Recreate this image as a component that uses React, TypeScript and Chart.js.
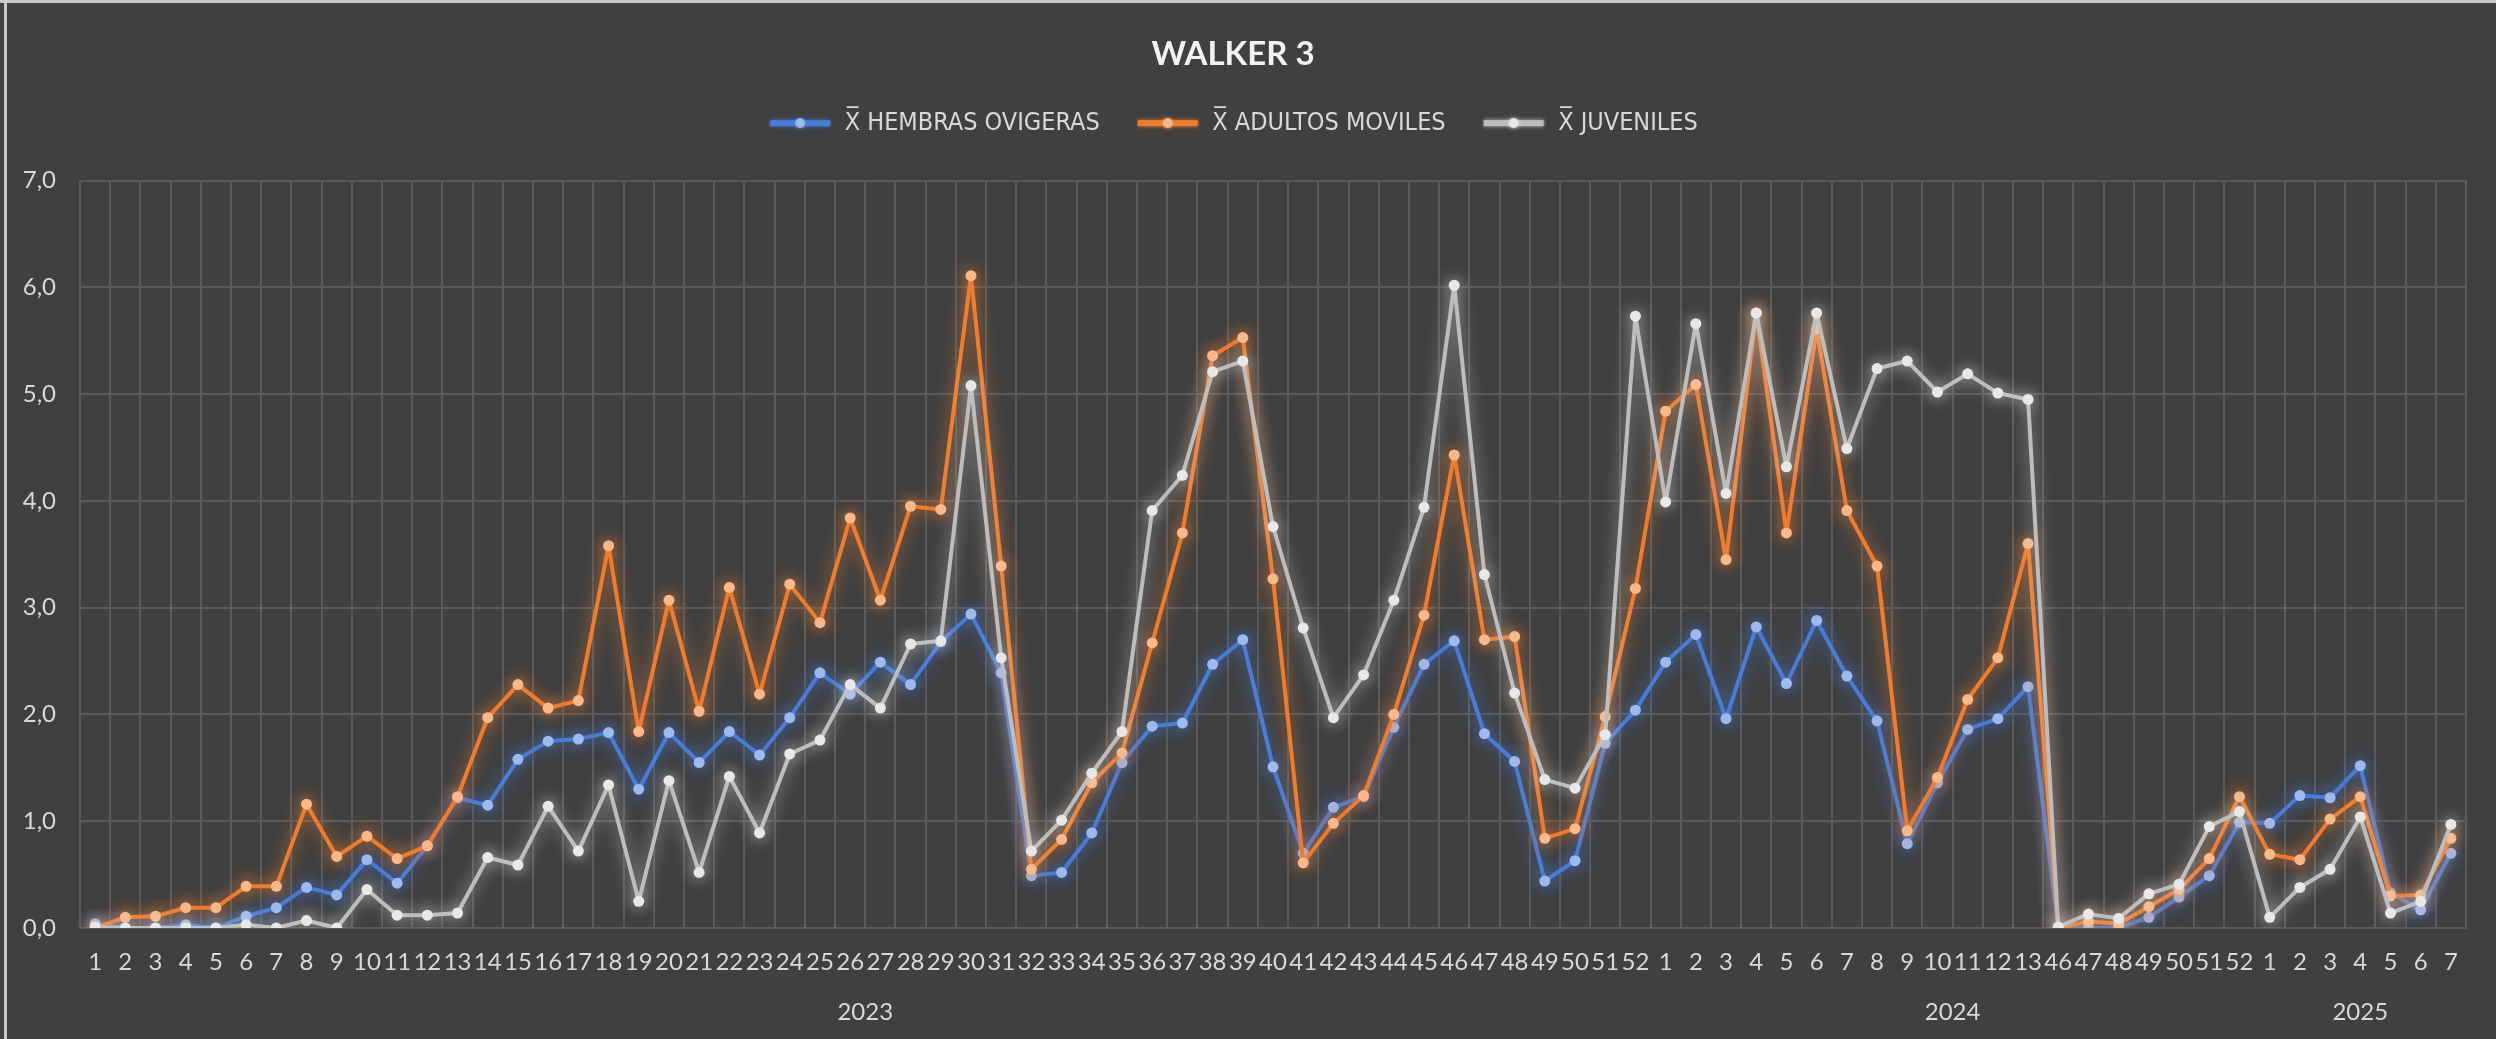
import React, { useEffect, useRef } from 'react';
import { Chart, registerables } from 'chart.js';

Chart.register(...registerables);

// ---- categories (multi-level: week / year) ----
const weeks2023 = ['1','2','3','4','5','6','7','8','9','10','11','12','13','14','15','16','17','18','19','20','21','22','23','24','25','26','27','28','29','30','31','32','33','34','35','36','37','38','39','40','41','42','43','44','45','46','47','48','49','50','51','52'];
const weeks2024 = ['1','2','3','4','5','6','7','8','9','10','11','12','13','46','47','48','49','50','51','52'];
const weeks2025 = ['1','2','3','4','5','6','7'];
const yearLabels = ['2023', '2024', '2025'];
const weekGroups = [weeks2023, weeks2024, weeks2025];

// ---- series values ----
const hembrasOvigeras = [
  0.04, 0.0, 0.0, 0.03, 0.0, 0.11, 0.19, 0.38, 0.31, 0.64,
  0.42, 0.77, 1.22, 1.15, 1.58, 1.75, 1.77, 1.83, 1.30, 1.83,
  1.55, 1.84, 1.62, 1.97, 2.39, 2.19, 2.49, 2.28, 2.68, 2.94,
  2.39, 0.49, 0.52, 0.89, 1.55, 1.89, 1.92, 2.47, 2.70, 1.51,
  0.70, 1.13, 1.23, 1.88, 2.47, 2.69, 1.82, 1.56, 0.44, 0.63,
  1.73, 2.04, 2.49, 2.75, 1.96, 2.82, 2.29, 2.88, 2.36, 1.94,
  0.79, 1.36, 1.86, 1.96, 2.26, 0.0, 0.0, 0.0, 0.10, 0.29,
  0.49, 0.99, 0.98, 1.24, 1.22, 1.52, 0.33, 0.17, 0.70
];
const adultosMoviles = [
  0.0, 0.10, 0.11, 0.19, 0.19, 0.39, 0.39, 1.16, 0.67, 0.86,
  0.65, 0.77, 1.23, 1.97, 2.28, 2.06, 2.13, 3.58, 1.84, 3.07,
  2.03, 3.19, 2.19, 3.22, 2.86, 3.84, 3.07, 3.95, 3.92, 6.11,
  3.39, 0.55, 0.83, 1.36, 1.64, 2.67, 3.70, 5.36, 5.53, 3.27,
  0.61, 0.98, 1.24, 2.00, 2.93, 4.43, 2.70, 2.73, 0.84, 0.93,
  1.98, 3.18, 4.84, 5.09, 3.45, 5.76, 3.70, 5.61, 3.91, 3.39,
  0.91, 1.41, 2.14, 2.53, 3.60, 0.0, 0.06, 0.04, 0.20, 0.36,
  0.65, 1.23, 0.69, 0.64, 1.02, 1.23, 0.30, 0.31, 0.84
];
const juveniles = [
  0.01, 0.0, 0.0, 0.0, 0.0, 0.03, 0.0, 0.07, 0.0, 0.36,
  0.12, 0.12, 0.14, 0.66, 0.59, 1.14, 0.72, 1.34, 0.25, 1.38,
  0.52, 1.42, 0.89, 1.63, 1.76, 2.28, 2.06, 2.66, 2.69, 5.08,
  2.53, 0.72, 1.01, 1.45, 1.84, 3.91, 4.24, 5.21, 5.31, 3.76,
  2.81, 1.97, 2.37, 3.07, 3.94, 6.02, 3.31, 2.20, 1.39, 1.31,
  1.81, 5.73, 3.99, 5.66, 4.07, 5.76, 4.32, 5.76, 4.49, 5.24,
  5.31, 5.02, 5.19, 5.01, 4.95, 0.01, 0.13, 0.09, 0.32, 0.41,
  0.95, 1.09, 0.10, 0.38, 0.55, 1.04, 0.14, 0.25, 0.97
];

const seriesNames = ['X\u0305 HEMBRAS OVIGERAS', 'X\u0305 ADULTOS MOVILES', 'X\u0305 JUVENILES'];
const yTicks = [0, 1, 2, 3, 4, 5, 6, 7];

// ---- styles ----
const BG = '#404040';
const GRID = '#5a5a5a';
const TEXT = '#d9d9d9';
const FONT = 'Lato';
const LEGEND_FONT = '"DejaVu Sans Condensed", "DejaVu Sans"';
const lineColors = ['#4a7dd6', '#ee7d31', '#bdbdbd'];
const pointColors = ['#9dbaf0', '#f8b88a', '#e8e8e8'];
const glowColors = ['rgba(70,120,215,0.95)', 'rgba(238,125,49,0.95)', 'rgba(225,225,225,0.75)'];

const allWeeks = ([] as string[]).concat(...weekGroups);
const yearCenters: number[] = [];
{
  let start = 0;
  for (const g of weekGroups) {
    yearCenters.push(start + (g.length - 1) / 2);
    start += g.length;
  }
}

function makeIcon(line: string, point: string, glow: string) {
  const c = document.createElement('canvas');
  c.width = 64;
  c.height = 24;
  const ctx = c.getContext('2d')!;
  ctx.shadowColor = glow;
  ctx.shadowBlur = 4;
  ctx.strokeStyle = line;
  ctx.lineWidth = 6;
  ctx.beginPath();
  ctx.moveTo(2, 12);
  ctx.lineTo(62, 12);
  ctx.stroke();
  ctx.fillStyle = point;
  ctx.beginPath();
  ctx.arc(32, 12, 5, 0, Math.PI * 2);
  ctx.fill();
  return c;
}

const glowPlugin = {
  id: 'glow',
  beforeDatasetDraw(chart: any, args: any) {
    const ctx = chart.ctx;
    ctx.save();
    ctx.shadowColor = glowColors[args.index];
    ctx.shadowBlur = 16;
  },
  afterDatasetDraw(chart: any) {
    chart.ctx.restore();
  },
};

const legendSpacer = {
  id: 'legendSpacer',
  beforeInit(chart: any) {
    const legend = chart.legend;
    if (!legend) return;
    const origFit = legend.fit;
    legend.fit = function () {
      origFit.call(this);
      this.height += 35;
    };
  },
};

export default function App() {
  const ref = useRef<HTMLCanvasElement | null>(null);

  useEffect(() => {
    document.body.style.margin = '0';
    if (!ref.current) return;
    const icons = [0, 1, 2].map((i) => makeIcon(lineColors[i], pointColors[i], glowColors[i]));
    const seriesData = [hembrasOvigeras, adultosMoviles, juveniles];
    const orders = [2, 1, 0];

    const chart = new Chart(ref.current, {
      type: 'line',
      data: {
        labels: allWeeks,
        datasets: seriesData.map((d, i) => ({
          label: seriesNames[i],
          data: d,
          xAxisID: 'x',
          yAxisID: 'y',
          order: orders[i],
          borderColor: lineColors[i],
          backgroundColor: pointColors[i],
          borderWidth: 4,
          borderJoinStyle: 'round',
          borderCapStyle: 'round',
          tension: 0,
          pointRadius: 5.5,
          pointBackgroundColor: pointColors[i],
          pointBorderColor: pointColors[i],
          pointBorderWidth: 0,
          fill: false,
        })),
      },
      options: {
        responsive: false,
        animation: false,
        devicePixelRatio: 1,
        layout: { padding: { left: 0, right: 30, top: 0, bottom: 0 } },
        plugins: {
          title: {
            display: true,
            text: 'WALKER 3',
            color: '#f2f2f2',
            font: { family: FONT, size: 33, weight: 'bold' },
            padding: { top: 35, bottom: 0 },
          },
          legend: {
            display: true,
            position: 'top',
            labels: {
              color: TEXT,
              font: { family: LEGEND_FONT, size: 25 },
              usePointStyle: true,
              pointStyleWidth: 64,
              padding: 36,
              generateLabels: (ch: any) =>
                ch.data.datasets.map((ds: any, i: number) => ({
                  text: ds.label,
                  fillStyle: lineColors[i],
                  strokeStyle: lineColors[i],
                  lineWidth: 0,
                  pointStyle: icons[i],
                  hidden: false,
                  datasetIndex: i,
                  fontColor: TEXT,
                })),
            },
          },
          tooltip: { enabled: false },
        },
        scales: {
          x: {
            type: 'category',
            axis: 'x',
            position: 'bottom',
            weight: 0,
            offset: true,
            grid: { offset: true, color: GRID, lineWidth: 2, drawTicks: false },
            border: { color: GRID, width: 2 },
            ticks: {
              color: TEXT,
              font: { family: FONT, size: 24 },
              autoSkip: false,
              maxRotation: 0,
              minRotation: 0,
              padding: 20,
            },
            afterFit: (s: any) => {
              s.height = 60;
            },
          },
          year: {
            type: 'linear',
            axis: 'x',
            position: 'bottom',
            weight: 1,
            min: -0.5,
            max: allWeeks.length - 0.5,
            grid: { display: false, drawTicks: false },
            border: { display: false },
            afterBuildTicks: (s: any) => {
              s.ticks = yearCenters.map((v) => ({ value: v }));
            },
            ticks: {
              color: TEXT,
              font: { family: FONT, size: 24 },
              autoSkip: false,
              maxRotation: 0,
              padding: 10,
              callback: (_v: any, i: number) => yearLabels[i],
            },
            afterFit: (s: any) => {
              s.height = 51;
            },
          },
          y: {
            type: 'linear',
            position: 'left',
            min: yTicks[0],
            max: yTicks[yTicks.length - 1],
            grid: { color: GRID, lineWidth: 2, drawTicks: false },
            border: { display: false },
            afterBuildTicks: (s: any) => {
              s.ticks = yTicks.map((v) => ({ value: v }));
            },
            ticks: {
              color: TEXT,
              font: { family: FONT, size: 24 },
              padding: 24,
              callback: (v: any) => Number(v).toFixed(1).replace('.', ','),
            },
            afterFit: (s: any) => {
              s.width = 80;
            },
          },
        },
      } as any,
      plugins: [glowPlugin, legendSpacer],
    });
    return () => chart.destroy();
  }, []);

  return (
    <div style={{ position: 'absolute', left: 0, top: 0, width: 2496, height: 1039, background: BG, overflow: 'hidden' }}>
      <div style={{ position: 'absolute', left: 0, top: 0, width: 2496, height: 3, background: '#c8c8c8' }} />
      <div style={{ position: 'absolute', left: 4, top: 0, width: 3, height: 1039, background: '#c8c8c8' }} />
      <canvas ref={ref} width={2496} height={1039} style={{ display: 'block', width: 2496, height: 1039 }} />
    </div>
  );
}
